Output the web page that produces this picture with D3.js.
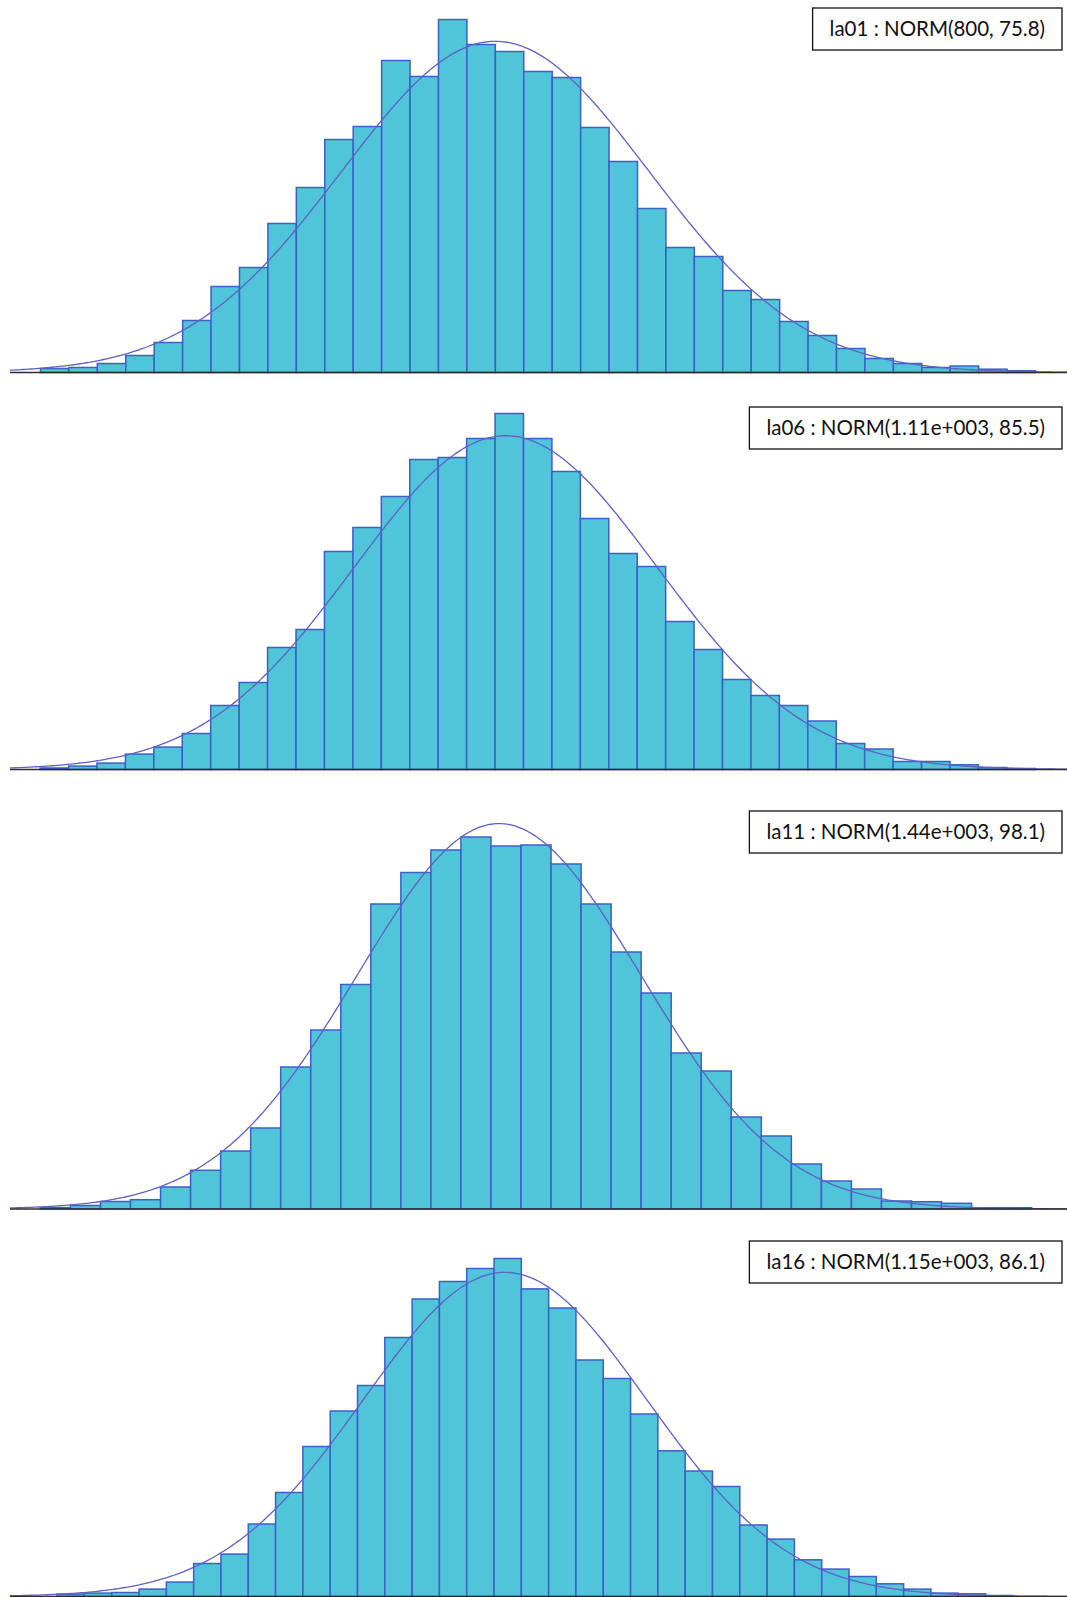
<!DOCTYPE html>
<html>
<head>
<meta charset="utf-8">
<script src="https://cdn.jsdelivr.net/npm/d3@7"></script>
<style>
  body { margin: 0; background: #fff; }
  svg { display: block; }
</style>
</head>
<body>
<div id="chart"></div>
<script>
// fitted distribution per panel
var labels = ["la01 : NORM(800, 75.8)", "la06 : NORM(1.11e+003, 85.5)",
              "la11 : NORM(1.44e+003, 98.1)", "la16 : NORM(1.15e+003, 86.1)"];
var means = [800, 1110, 1440, 1150];
var sds = [75.8, 85.5, 98.1, 86.1];

// histogram bins (data units)
var binStarts = [576, 847, 1123, 878.2];
var binWidths = [14.0, 16.06, 20.76, 16.57];
var xDomains = [[561, 1081.5], [830, 1427], [1102, 1832.5], [849.6, 1491]];

// bin frequencies
var counts1 = [4, 5, 9, 17, 30, 52, 86, 105, 149, 185, 233, 246, 312, 296, 353, 328, 321, 301,
               295, 245, 211, 164, 125, 116, 82, 73, 51, 37, 24, 14, 9, 5, 6.5, 3.3, 1.7];
var counts2 = [1.5, 3.4, 6.4, 15.4, 22.4, 36, 64, 87, 122, 140, 218, 242, 273, 310, 312, 331, 356, 331,
               298, 251, 216, 203, 148, 120, 90, 74, 64, 48.5, 26, 20.5, 8, 8, 4.7, 2, 1];
var counts3 = [1.3, 3.5, 7.5, 9.3, 22, 38.7, 58, 81, 142, 179, 224.5, 305, 336.5, 359, 372, 363, 364,
               345, 305, 257, 216, 156, 138, 92, 73, 45, 28, 20, 8, 7.3, 5.7, 1.3, 1.3];
var counts4 = [2.4, 3.4, 4, 7.4, 14.4, 33, 42.4, 72.5, 104, 150, 185.5, 211, 259, 297.5, 315, 328, 338,
               307.6, 288.5, 236.5, 218, 182.5, 145.7, 125.5, 110, 71.5, 57.4, 36.7, 27.4, 20, 12.7, 7.4,
               3.4, 2.7, 1];
var allCounts = [counts1, counts2, counts3, counts4];

// layout
var width = 1067, height = 1597;
var baselines = [372.5, 769.5, 1209, 1596.5];
var boxTops = [8, 407, 811, 1241];
var boxRight = 1062, boxH = 42;

var svg = d3.select("#chart").append("svg")
    .attr("width", width)
    .attr("height", height);

var fill = "#50c4d8", edge = "#3d5fc6", curveCol = "#5f61c4";

allCounts.forEach(function(counts, p){
    var x = d3.scaleLinear().domain(xDomains[p]).range([10, width]);
    var y = d3.scaleLinear().domain([0, 400]).range([baselines[p], baselines[p] - 400]);
    var bw = binWidths[p];

    var bins = counts.map(function(c, i){
        return {x0: binStarts[p] + i * bw, x1: binStarts[p] + (i + 1) * bw, n: c};
    });

    var g = svg.append("g");

    g.selectAll("rect").data(bins).enter().append("rect")
        .attr("x", function(d){ return x(d.x0); })
        .attr("y", function(d){ return y(d.n); })
        .attr("width", function(d){ return x(d.x1) - x(d.x0); })
        .attr("height", function(d){ return y(0) - y(d.n); })
        .style("fill", fill)
        .style("stroke", edge)
        .style("stroke-width", 1.5);

    // normal fit scaled to the histogram area
    var total = d3.sum(counts);
    var k = total * bw / (sds[p] * Math.sqrt(2 * Math.PI));
    var xs = d3.range(xDomains[p][0], xDomains[p][1], (xDomains[p][1] - xDomains[p][0]) / 400)
        .concat([xDomains[p][1]]);
    var line = d3.line()
        .x(function(d){ return x(d); })
        .y(function(d){
            var z = (d - means[p]) / sds[p];
            return y(k * Math.exp(-0.5 * z * z));
        });

    g.append("path")
        .datum(xs)
        .attr("d", line)
        .style("fill", "none")
        .style("stroke", curveCol)
        .style("stroke-width", 1.3);

    // axis line
    g.append("line")
        .attr("x1", x.range()[0]).attr("x2", x.range()[1])
        .attr("y1", y(0)).attr("y2", y(0))
        .style("stroke", "#2b2b2b")
        .style("stroke-width", 1.5);

    // label box
    var txt = g.append("text")
        .attr("y", boxTops[p] + boxH / 2)
        .attr("dy", "0.35em")
        .style("font-family", "Lato, 'Open Sans', sans-serif")
        .style("font-size", "20.5px")
        .style("fill", "#111")
        .text(labels[p]);
    var tw = txt.node().getComputedTextLength();
    var bx = boxRight - tw - 34;
    txt.attr("x", bx + 17);
    g.insert("rect", "text")
        .attr("x", bx).attr("y", boxTops[p])
        .attr("width", tw + 34).attr("height", boxH)
        .style("fill", "#fff")
        .style("stroke", "#111")
        .style("stroke-width", 1.3);
});
</script>
</body>
</html>
